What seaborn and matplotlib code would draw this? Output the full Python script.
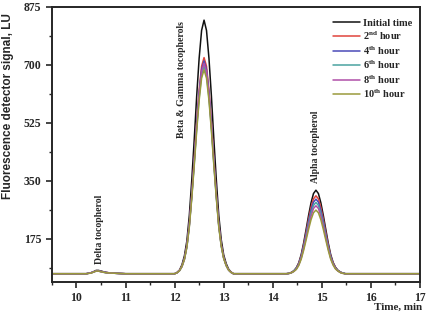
import pandas as pd
import matplotlib
matplotlib.use("Agg")
from matplotlib import pyplot as plt
from matplotlib.ticker import MultipleLocator
import seaborn as sns

# retention time grid (min), denser around the three peaks
time_delta = [9.5, 10.0, 10.2, 10.3, 10.35, 10.4, 10.45, 10.5, 10.6, 10.7, 10.85, 11.0, 11.5]
time_beta = [12.0, 12.05, 12.1, 12.15, 12.2, 12.25, 12.3, 12.35, 12.4, 12.45, 12.5, 12.55,
             12.6, 12.65, 12.7, 12.75, 12.8, 12.85, 12.9, 12.95, 13.0, 13.05, 13.1, 13.15,
             13.2, 13.6, 14.0]
time_alpha = [14.28, 14.33, 14.38, 14.43, 14.48, 14.53, 14.58, 14.63, 14.68, 14.73, 14.78,
              14.83, 14.88, 14.93, 14.98, 15.03, 15.08, 15.13, 15.18, 15.23, 15.28, 15.33,
              15.38, 15.43, 15.48, 15.8, 16.4, 17.0]

labels = ["Initial time", "2$^{nd}$ hour", "4$^{th}$ hour", "6$^{th}$ hour",
          "8$^{th}$ hour", "10$^{th}$ hour"]
colors = ["#111111", "#e0443c", "#4a4ab8", "#4aa3a0", "#b050a8", "#9a9a3c"]

# signal (LU): baseline + delta tocopherol
delta_vals = {
    "Initial time": [70, 70, 70, 73, 76, 80, 80, 78, 74, 72, 71, 70, 70],
    "2$^{nd}$ hour": [70, 70, 70, 73, 76, 79, 79, 77, 74, 72, 71, 70, 70],
    "4$^{th}$ hour": [70, 70, 70, 73, 76, 79, 79, 77, 74, 72, 71, 70, 70],
    "6$^{th}$ hour": [70, 70, 70, 73, 75, 78, 78, 76, 73, 72, 71, 70, 70],
    "8$^{th}$ hour": [70, 70, 70, 73, 75, 78, 78, 76, 73, 72, 71, 70, 70],
    "10$^{th}$ hour": [70, 70, 70, 72, 75, 78, 78, 76, 73, 72, 71, 70, 70],
}
# signal (LU): beta & gamma tocopherols
beta_vals = {
    "Initial time": [70, 74, 81, 97, 124, 169, 246, 353, 475, 606, 720, 804, 835, 804, 720,
                     606, 475, 353, 246, 173, 127, 101, 84, 75, 70, 70, 70],
    "2$^{nd}$ hour": [70, 73, 80, 93, 116, 155, 220, 311, 416, 526, 624, 696, 722, 696, 624,
                      526, 416, 311, 220, 158, 119, 96, 82, 75, 70, 70, 70],
    "4$^{th}$ hour": [70, 73, 80, 92, 115, 153, 218, 308, 410, 519, 616, 686, 712, 686, 616,
                      519, 410, 308, 218, 157, 118, 96, 82, 74, 70, 70, 70],
    "6$^{th}$ hour": [70, 73, 79, 92, 114, 151, 214, 301, 401, 508, 601, 670, 695, 670, 601,
                      508, 401, 301, 214, 154, 117, 95, 81, 74, 70, 70, 70],
    "8$^{th}$ hour": [70, 73, 80, 92, 114, 153, 216, 305, 407, 515, 610, 680, 705, 680, 610,
                      515, 407, 305, 216, 156, 118, 95, 81, 74, 70, 70, 70],
    "10$^{th}$ hour": [70, 73, 79, 92, 113, 150, 211, 298, 396, 501, 593, 660, 685, 660, 593,
                       501, 396, 298, 211, 153, 116, 95, 81, 74, 70, 70, 70],
}
# signal (LU): alpha tocopherol
alpha_vals = {
    "Initial time": [70, 71, 74, 79, 88, 103, 128, 163, 204, 246, 284, 312, 322, 312, 284,
                     246, 204, 163, 128, 104, 89, 80, 75, 72, 70, 70, 70, 70],
    "2$^{nd}$ hour": [70, 71, 74, 78, 86, 101, 124, 157, 195, 235, 270, 296, 305, 296, 270,
                      235, 195, 157, 124, 102, 88, 79, 74, 72, 70, 70, 70, 70],
    "4$^{th}$ hour": [70, 71, 73, 78, 86, 99, 122, 153, 189, 228, 261, 286, 295, 286, 261,
                      228, 189, 153, 122, 100, 87, 79, 74, 72, 70, 70, 70, 70],
    "6$^{th}$ hour": [70, 71, 73, 78, 85, 98, 119, 150, 184, 221, 253, 276, 285, 276, 253,
                      221, 184, 150, 119, 99, 86, 79, 74, 72, 70, 70, 70, 70],
    "8$^{th}$ hour": [70, 71, 73, 77, 84, 97, 117, 146, 179, 214, 244, 267, 275, 267, 244,
                      214, 179, 146, 117, 98, 85, 78, 74, 71, 70, 70, 70, 70],
    "10$^{th}$ hour": [70, 71, 73, 77, 83, 95, 114, 141, 172, 204, 233, 254, 262, 254, 233,
                       204, 172, 141, 114, 96, 84, 78, 73, 71, 70, 70, 70, 70],
}

time_min = time_delta + time_beta + time_alpha
rows = []
for lab in labels:
    signal = delta_vals[lab] + beta_vals[lab] + alpha_vals[lab]
    for t, s in zip(time_min, signal):
        rows.append({"time": t, "signal": s, "series": lab})
df = pd.DataFrame(rows)

sns.set_style("ticks")
plt.rcParams["font.family"] = ["Liberation Serif", "DejaVu Serif"]
plt.rcParams["mathtext.fontset"] = "custom"
plt.rcParams["mathtext.rm"] = "Liberation Serif:bold"
plt.rcParams["mathtext.it"] = "Liberation Serif:bold"

fig = plt.figure(figsize=(4.29, 3.13), dpi=100)
ax = fig.add_axes([0.121, 0.099, 0.858, 0.879])

sns.lineplot(data=df, x="time", y="signal", hue="series", hue_order=labels,
             palette=colors, linewidth=1.1, ax=ax, legend=True)

ax.set_xlim(9.5, 17)
ax.set_ylim(45, 875)
ax.set_yticks([175, 350, 525, 700, 875])
ax.xaxis.set_major_locator(MultipleLocator(1))
ax.xaxis.set_minor_locator(MultipleLocator(0.5))
ax.yaxis.set_minor_locator(MultipleLocator(87.5))
ax.tick_params(which="major", length=4, width=1.2, labelsize=8.5)
ax.tick_params(which="minor", length=2.5, width=1.0)
for lbl in ax.get_xticklabels() + ax.get_yticklabels():
    lbl.set_fontweight("bold")
for sp in ax.spines.values():
    sp.set_linewidth(1.4)
ax.set_xlabel("")
ax.set_ylabel("")

ax.text(10.46, 100, "Delta tocopherol", rotation=90, ha="center", va="bottom",
        fontsize=7, fontweight="bold")
ax.text(12.15, 480, "Beta & Gamma tocopherols", rotation=90, ha="center", va="bottom",
        fontsize=7, fontweight="bold")
ax.text(14.87, 345, "Alpha tocopherol", rotation=90, ha="center", va="bottom",
        fontsize=7, fontweight="bold")

fig.text(0.019, 0.66, "Fluorescence detector signal, LU", rotation=90, ha="center",
         va="center", fontsize=8.5, fontweight="bold", family="Liberation Sans")
fig.text(0.985, 0.003, "Time, min", ha="right", va="bottom", fontsize=8,
         fontweight="bold")

handles, _ = ax.get_legend_handles_labels()
ax.legend(handles, labels, loc="upper right", bbox_to_anchor=(1.0, 0.985),
          frameon=False, handlelength=2.6, handletextpad=0.3,
          labelspacing=0.2, borderaxespad=0.3,
          prop={"weight": "bold", "size": 7.5})

fig.savefig("out.png", dpi=100)
